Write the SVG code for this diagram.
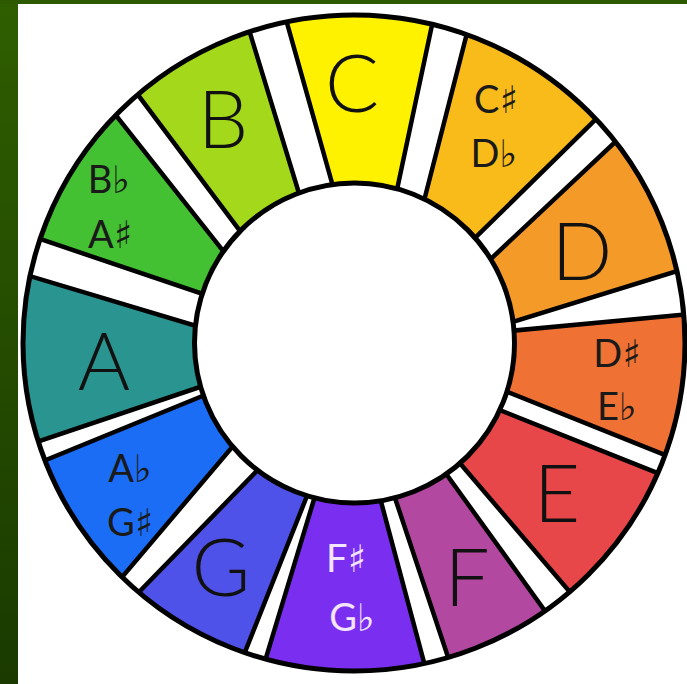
<svg xmlns="http://www.w3.org/2000/svg" width="687" height="684" viewBox="0 0 687 684">
<defs>
<linearGradient id="bg" x1="0" y1="0" x2="0" y2="1"><stop offset="0" stop-color="#2f5e00"/><stop offset="1" stop-color="#1a3a00"/></linearGradient>
<clipPath id="wheel"><ellipse cx="354" cy="343" rx="331" ry="328"/></clipPath>
</defs>
<style>
.seg{stroke:#000;stroke-width:4.5;stroke-linejoin:round}
.big{font-family:Lato,"Open Sans",sans-serif;font-size:80px;font-weight:300;text-anchor:middle;fill:#111}
.sm{font-family:Lato,"DejaVu Sans",sans-serif;font-size:38px;font-weight:400;text-anchor:middle;fill:#1a1a1a}
.lt{fill:#f3e4ff}
.ring{fill:none;stroke:#000;stroke-width:5}
</style>
<rect width="687" height="684" fill="#fff"/>
<rect x="0" y="0" width="18" height="684" fill="url(#bg)"/>
<rect x="0" y="0" width="687" height="4" fill="#2d5a00"/>
<ellipse cx="354" cy="343" rx="331" ry="328" fill="#fff"/>
<g id="seg-C"><polygon class="seg" clip-path="url(#wheel)" fill="#fff200" points="343.25,223 269,-41 445.6,-39 389.5,225"/><text class="big" x="352" y="112">C</text></g>
<g id="seg-Cs"><polygon class="seg" clip-path="url(#wheel)" fill="#f8bb19" points="414.75,237 482.4,-27 638.2,77.6 451.75,260.75"/><text class="sm" x="496" y="113">C♯</text><text class="sm" x="494" y="167">D♭</text></g>
<g id="seg-D"><polygon class="seg" clip-path="url(#wheel)" fill="#f39a29" points="465.75,282.5 658.8,101 736,252.8 480.25,332"/><text class="big" x="582" y="280">D</text></g>
<g id="seg-Ds"><polygon class="seg" clip-path="url(#wheel)" fill="#ef7234" points="480,333.75 744,309 727,479.8 471.25,377.5"/><text class="sm" x="617" y="367">D♯</text><text class="sm" x="617" y="420">E♭</text></g>
<g id="seg-E"><polygon class="seg" clip-path="url(#wheel)" fill="#e8474a" points="468.75,397.75 721.2,498.4 611,640.2 437.75,437.25"/><text class="big" x="557" y="522">E</text></g>
<g id="seg-F"><polygon class="seg" clip-path="url(#wheel)" fill="#b2489f" points="428.75,449.75 582.2,662.6 468.4,718.2 384.25,465.75"/><text class="big" x="467" y="606">F</text></g>
<g id="seg-Fs"><polygon class="seg" clip-path="url(#wheel)" fill="#7a2ef0" points="372.5,469.75 441.8,728.8 246.2,723 323.75,467.25"/><text class="sm lt" x="346" y="572">F♯</text><text class="sm lt" x="352" y="631">G♭</text></g>
<g id="seg-G"><polygon class="seg" clip-path="url(#wheel)" fill="#4f52e8" points="317.5,469.5 221.8,710.4 96,636.2 277.5,449.75"/><text class="big" x="221" y="596">G</text></g>
<g id="seg-Gs"><polygon class="seg" clip-path="url(#wheel)" fill="#1b6df5" points="254.25,421 81,625.6 -15.6,485.2 238.5,381.25"/><text class="sm" x="130" y="482">A♭</text><text class="sm" x="130" y="536">G♯</text></g>
<g id="seg-A"><polygon class="seg" clip-path="url(#wheel)" fill="#2a9490" points="236.25,374.75 -22.8,462.2 -31,257.8 233,337"/><text class="big" x="104" y="390">A</text></g>
<g id="seg-As"><polygon class="seg" clip-path="url(#wheel)" fill="#44c132" points="239.25,306.25 -19.8,218.8 77.2,66.4 245.5,279.25"/><text class="sm" x="109" y="193">B♭</text><text class="sm" x="110" y="248">A♯</text></g>
<g id="seg-B"><polygon class="seg" clip-path="url(#wheel)" fill="#a3d81b" points="261.75,260 98.4,42.2 230.8,-29.8 310,229.25"/><text class="big" x="223" y="148">B</text></g>
<ellipse class="ring" cx="354" cy="343" rx="331" ry="328"/>
<circle cx="354.5" cy="343" r="160" fill="#fff" stroke="#000" stroke-width="5"/>
</svg>
